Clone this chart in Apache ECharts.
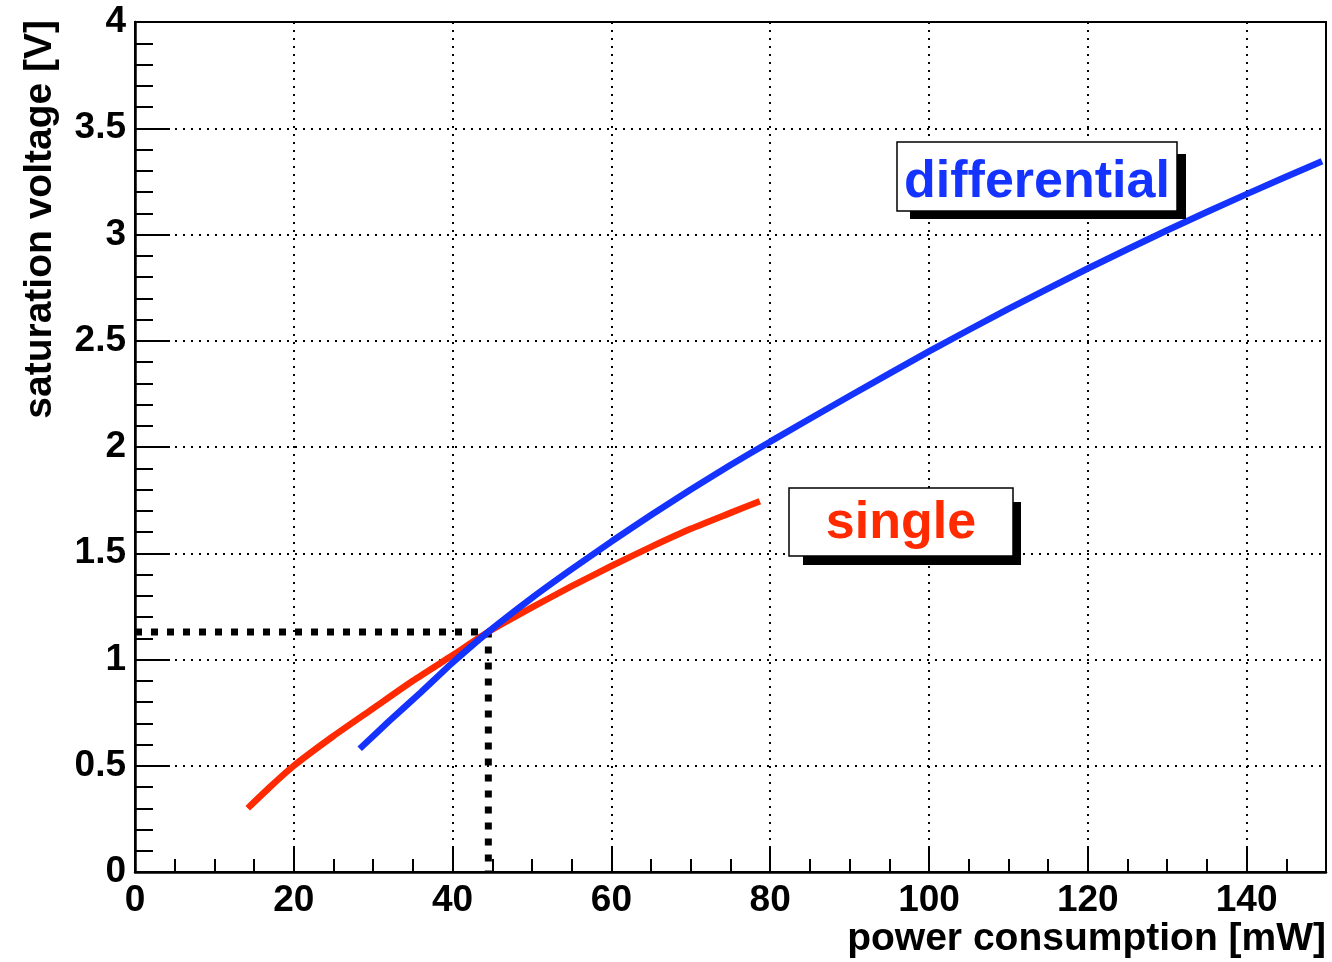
<!DOCTYPE html>
<html>
<head>
<meta charset="utf-8">
<script src="https://cdn.jsdelivr.net/npm/echarts@6/dist/echarts.min.js"></script>
<style>
  html, body { margin: 0; padding: 0; background: #fff; }
  #chart { width: 1332px; height: 962px; }
</style>
</head>
<body>
<div id="chart"></div>
<script>
// values
const diffPower = [28.3, 32, 36, 40, 44.5, 50, 55, 60, 65, 70, 75, 80, 90, 100, 110, 120, 130, 140, 149.5]
const diffVolt = [0.58, 0.71, 0.845, 0.985, 1.13, 1.29, 1.425, 1.555, 1.68, 1.80, 1.915, 2.025, 2.24, 2.45, 2.65, 2.84, 3.02, 3.19, 3.345]
const singlePower = [14.2, 17, 20, 25, 30, 35, 40, 44.5, 50, 55, 60, 65, 70, 75, 78.7]
const singleVolt = [0.30, 0.40, 0.50, 0.64, 0.77, 0.90, 1.02, 1.13, 1.245, 1.345, 1.44, 1.53, 1.615, 1.69, 1.745]
const markerPower = [0, 44.5, 44.5]
const markerVolt = [1.13, 1.13, 0]

const zip = (xs, ys) => xs.map((x, i) => [x, ys[i]])
const FONT = "'Liberation Sans', Arial, sans-serif"

let myChart = echarts.init(document.getElementById("chart"))
myChart.setOption({
  animation: false,
  grid: {
    left: 135,
    right: 6,
    top: 22,
    bottom: 90,
    show: true,
    borderColor: "#000",
    borderWidth: 2
  },
  xAxis: [
    {
      type: "value",
      min: 0,
      max: 150,
      interval: 20,
      axisLine: { lineStyle: { color: "#000", width: 2.5 } },
      axisTick: { inside: true, length: 25, lineStyle: { color: "#000", width: 2 } },
      axisLabel: {
        margin: 10,
        color: "#000",
        fontFamily: FONT,
        fontWeight: "bold",
        fontSize: 37,
        showMaxLabel: false
      },
      splitLine: { show: true, lineStyle: { color: "#000", width: 2, type: [2, 6] } }
    },
    {
      type: "value",
      position: "bottom",
      min: 0,
      max: 150,
      interval: 5,
      axisLine: { show: false },
      axisTick: { inside: true, length: 13, lineStyle: { color: "#000", width: 2 } },
      axisLabel: { show: false },
      splitLine: { show: false }
    }
  ],
  yAxis: {
    type: "value",
    min: 0,
    max: 4,
    interval: 0.5,
    axisLine: { show: true, lineStyle: { color: "#000", width: 2.5 } },
    axisTick: { show: true, inside: true, length: 35, lineStyle: { color: "#000", width: 2 } },
    minorTick: { show: true, splitNumber: 5, length: 18, lineStyle: { color: "#000", width: 2 } },
    axisLabel: {
      margin: 9,
      padding: [6, 0, 0, 0],
      color: "#000",
      fontFamily: FONT,
      fontWeight: "bold",
      fontSize: 37
    },
    splitLine: { show: true, lineStyle: { color: "#000", width: 2, type: [2, 6] } }
  },
  series: [
    {
      type: "line",
      name: "single",
      data: zip(singlePower, singleVolt),
      smooth: 0.2,
      showSymbol: false,
      lineStyle: { color: "#ff2a00", width: 6.5 }
    },
    {
      type: "line",
      name: "differential",
      data: zip(diffPower, diffVolt),
      smooth: 0.2,
      showSymbol: false,
      lineStyle: { color: "#1433ff", width: 6.5 }
    },
    {
      type: "line",
      name: "marker",
      data: zip(markerPower, markerVolt),
      showSymbol: false,
      z: 1,
      lineStyle: { color: "#000", width: 7, type: [7, 9], cap: "butt" }
    }
  ],
  graphic: [
    {
      type: "text",
      x: 40,
      y: 20,
      rotation: Math.PI / 2,
      style: {
        text: "saturation voltage [V]",
        fill: "#000",
        font: "bold 39px " + FONT,
        align: "right",
        verticalAlign: "middle"
      }
    },
    {
      type: "text",
      x: 1326,
      y: 939,
      style: {
        text: "power consumption [mW]",
        fill: "#000",
        font: "bold 39px " + FONT,
        align: "right",
        verticalAlign: "middle"
      }
    },
    { type: "rect", shape: { x: 910, y: 154, width: 276, height: 65 }, style: { fill: "#000" }, z: 10 },
    { type: "rect", shape: { x: 897, y: 142, width: 280, height: 69 }, style: { fill: "#fff", stroke: "#000", lineWidth: 1.5 }, z: 11 },
    {
      type: "text", x: 1037, y: 183, z: 12,
      style: { text: "differential", fill: "#1433ff", font: "bold 52px " + FONT, align: "center", verticalAlign: "middle" }
    },
    { type: "rect", shape: { x: 803, y: 502, width: 218, height: 63 }, style: { fill: "#000" }, z: 10 },
    { type: "rect", shape: { x: 789, y: 488, width: 224, height: 68 }, style: { fill: "#fff", stroke: "#000", lineWidth: 1.5 }, z: 11 },
    {
      type: "text", x: 901, y: 524, z: 12,
      style: { text: "single", fill: "#ff2a00", font: "bold 52px " + FONT, align: "center", verticalAlign: "middle" }
    }
  ]
})
</script>
</body>
</html>
